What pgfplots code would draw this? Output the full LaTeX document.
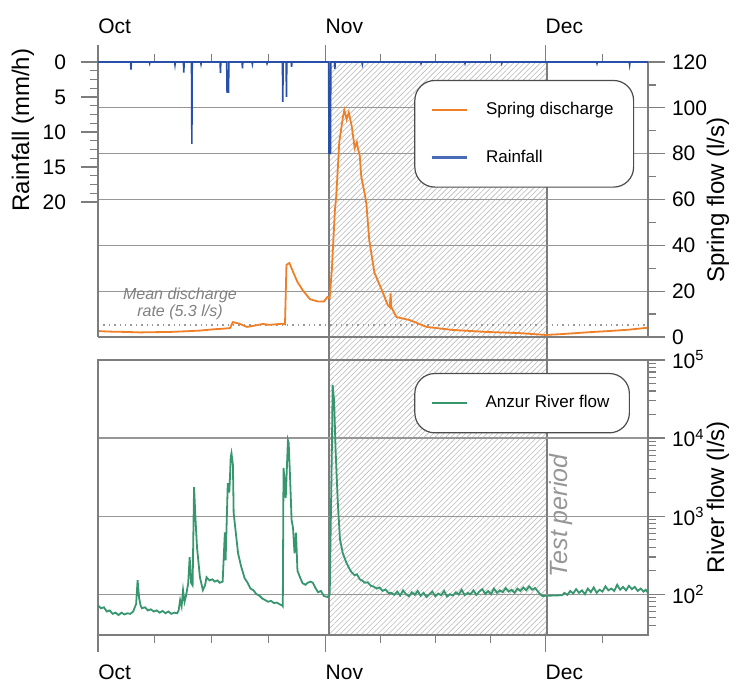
\documentclass[border=0pt]{standalone}
\usepackage{fontspec}
\setmainfont{Liberation Sans}
\usepackage{pgfplots}
\pgfplotsset{compat=1.18}
\usetikzlibrary{patterns.meta}

\definecolor{rainblue}{RGB}{40,80,170}
\definecolor{springorange}{RGB}{240,128,40}
\definecolor{rivergreen}{RGB}{55,150,110}
\definecolor{axgray}{RGB}{125,125,125}
\definecolor{gridgray}{RGB}{150,150,150}
\definecolor{notegray}{RGB}{150,150,150}

% days counted from 1 Oct
\pgfplotsset{
  panel/.style={
    scale only axis, width=275pt, height=137.5pt,
    xmin=0, xmax=75, clip=false,
    axis line style={axgray, line width=0.7pt},
    tick style={axgray, line width=0.6pt},
    tick align=outside,
    major tick length=8.5pt, minor tick length=4pt,
    tick label style={font=\fontsize{10.5}{12}\selectfont},
    /pgf/number format/assume math mode=true,
    xtick={0,31,61}, xticklabels={Oct,Nov,Dec},
    minor xtick={7.75,15.5,23.25,38.5,46,53.5,68.75},
  },
  boxlegend/.style={
    legend style={
      draw=black!70, line width=0.6pt, fill=white,
      rounded corners=10pt,
      font=\fontsize{8.5}{10}\selectfont,
      inner xsep=8pt, inner ysep=9pt,
      row sep=12pt,
      /tikz/every odd column/.append style={column sep=7pt},
    },
    legend image code/.code={\draw[##1] (0pt,0pt) -- (17.5pt,0pt);},
    legend cell align=left,
  },
}

\begin{document}
\begin{tikzpicture}
\path[use as bounding box] (0,0) rectangle (375pt,-342pt);

% test period
\path[pattern={Lines[angle=45,distance=1.9pt,line width=0.3pt]}, pattern color=gray!55]
  (164.5pt,-31pt) rectangle (273.5pt,-317.5pt);
\draw[axgray, line width=0.6pt] (164.5pt,-31pt) rectangle (273.5pt,-317.5pt);

% spring flow (right axis of top panel)
\begin{axis}[panel, boxlegend,
  at={(49pt,-31pt)}, anchor=north west,
  ymin=0, ymax=120,
  axis y line*=right, axis x line*=bottom,
  xtick=\empty, minor xtick={},
  ytick={0,20,...,120}, minor ytick={10,30,50,70,90,110},
  ymajorgrids, grid style={gridgray, line width=0.6pt},
  legend style={at={(0.575,0.935)}, anchor=north west},
]
\addplot[gray!80, dotted, line width=0.7pt, forget plot] coordinates {(0,5.3) (75,5.3)};
\addplot[springorange, line width=0.9pt] coordinates {
(0,2.6) (1.2,2.4) (2.3,2.3) (4.0,2.2) (5.7,2.0) (7.5,2.1) (9.8,2.2) (12.0,2.5) (13.9,2.8)
(15.9,3.4) (17.0,3.6) (18.0,3.9)
(18.4,6.5) (19.3,5.8) (20.3,4.4) (21.4,5.0) (22.5,5.7) (23.3,5.3) (24.1,5.5) (25.2,5.8) (25.5,5.5)
(25.7,31.5) (26.1,32.3) (26.6,28.4) (27.2,24) (27.9,20.5) (28.9,16.5) (30.0,15.5)
(30.8,15.5) (31.3,17.5) (31.6,17) (31.9,30) (32.3,55) (32.5,62) (32.9,85) (33.4,96)
(33.6,99) (33.9,95) (34.2,98) (34.6,92) (35.0,82.5) (35.3,85) (35.4,83) (35.7,79)
(35.9,70) (36.4,62) (36.6,58) (37.0,42) (37.7,28) (38.7,20.5) (39.5,14) (39.8,13)
(39.9,19) (40.0,13) (40.7,8.7) (42.5,7.4) (44.8,4.4) (48.3,3.1) (53.0,2.2) (57.5,1.7)
(61.0,0.9) (62.9,1.2) (65.2,1.7) (67.5,2.2) (69.7,2.6) (72.4,3.2) (74.5,3.9) (74.9,4.0)
};
\addlegendentry{Spring discharge}
\addlegendimage{color=rainblue!85!white, line width=1.1pt}
\addlegendentry{Rainfall}
\end{axis}

% rainfall (left axis of top panel)
\begin{axis}[panel,
  at={(49pt,-31pt)}, anchor=north west,
  ymin=0, ymax=39.3, y dir=reverse,
  axis y line*=left, axis x line*=top,
  xticklabel style={anchor=south west, inner xsep=0pt, yshift=2pt},
  ytick={0,5,...,20},
  minor ytick={1.25,2.5,3.75,6.25,7.5,8.75,11.25,12.5,13.75,16.25,17.5,18.75},
  yticklabel style={xshift=-4pt},
]
\addplot[rainblue, line width=0.8pt] coordinates {
(0,0) (4.45,0) (4.5,1.1) (4.55,0) (7.0,0) (7.05,0.2) (7.1,0) (10.45,0) (10.5,0.4) (10.55,0)
(11.65,0) (11.7,1.5) (11.75,0) (12.75,0) (12.8,11.7) (12.85,0) (14.0,0) (14.05,0.3) (14.1,0)
(16.65,0) (16.7,1.6) (16.75,0) (17.55,0) (17.6,4.3) (17.7,4.3) (17.8,4.3) (17.85,0)
(19.65,0) (19.7,0.9) (19.75,0) (21.0,0) (21.05,0.3) (21.1,0) (23.0,0) (23.05,0.2) (23.1,0)
(25.15,0) (25.2,5.7) (25.25,0) (25.65,0) (25.7,5.0) (25.75,0) (26.35,0) (26.4,0.7) (26.45,0)
(31.45,0) (31.5,13.0) (31.6,13.0) (31.7,13.0) (31.75,0) (32.25,0) (32.3,1.0) (32.35,0)
(36.0,0) (36.05,0.3) (36.1,0) (44.0,0) (44.05,0.2) (44.1,0) (50.0,0) (50.05,0.2) (50.1,0)
(55.0,0) (55.05,0.2) (55.1,0) (68.0,0) (68.05,0.2) (68.1,0) (72.45,0) (72.5,0.4) (72.55,0)
(75,0)
};
\end{axis}

% river flow (bottom panel)
\begin{axis}[panel, boxlegend,
  at={(49pt,-180pt)}, anchor=north west,
  ymode=log, ymin=30, ymax=100000,
  xtick pos=bottom, ytick pos=right, yticklabel pos=right,
  xticklabel style={anchor=north west, inner xsep=0pt, yshift=-3pt},
  ytick={100,1000,10000,100000},
  yticklabels={10\textsuperscript{2},10\textsuperscript{3},10\textsuperscript{4},10\textsuperscript{5}},
  minor ytick={40,50,60,70,80,90,200,300,400,500,600,700,800,900,
    2000,3000,4000,5000,6000,7000,8000,9000,20000,30000,40000,50000,60000,70000,80000,90000},
  ymajorgrids, grid style={gridgray, line width=0.6pt},
  legend style={at={(0.575,0.953)}, anchor=north west},
]
\addplot[rivergreen, line width=0.9pt] coordinates {
(0,72) (0.4,66) (0.8,68) (1.2,60) (1.6,62) (2.0,56) (2.4,58) (2.8,54) (3.2,58) (3.6,55)
(4.0,57) (4.4,56) (4.8,60) (5.2,75) (5.4,151) (5.6,90) (5.8,72) (6.0,66) (6.4,68) (6.8,62)
(7.2,64) (7.6,60) (8.0,62) (8.4,58) (8.8,61) (9.2,57) (9.6,60) (10.0,56) (10.4,58) (10.8,57)
(11.0,62) (11.2,84) (11.4,70) (11.6,113) (11.8,80) (12.0,95) (12.3,138) (12.5,298)
(12.7,140) (12.9,130) (13.1,2350) (13.3,900) (13.5,400) (13.9,165) (14.3,113) (14.6,130)
(14.8,165) (15.2,150) (15.6,155) (15.9,145) (16.3,150) (16.6,140) (17.0,145)
(17.3,620) (17.4,272) (17.7,2650) (17.9,2000) (18.0,3200) (18.1,5700)
(18.2,6400) (18.4,4500) (18.5,1090) (19.1,335) (19.5,230) (20.0,160) (20.4,140) (20.8,118)
(21.2,112) (21.6,100) (22.0,96) (22.4,88) (22.8,84) (23.2,80) (23.6,82) (24.0,77) (24.4,78)
(24.8,74) (25.1,72) (25.2,70) (25.3,4150) (25.5,2500) (25.6,1700) (25.9,9400) (26.0,8700)
(26.2,3000) (26.4,890) (26.6,700) (26.8,335) (27.0,615) (27.2,200) (27.6,160) (27.9,138)
(28.3,132) (28.6,140) (29.0,145) (29.3,140) (29.7,118) (30.0,106) (30.4,110) (30.8,95)
(31.3,92) (31.6,100) (31.9,8000) (32.0,48000) (32.2,30000) (32.4,7000) (32.7,1500)
(33.0,500) (33.4,330) (33.9,250) (34.3,210) (34.6,190) (35.0,175) (35.3,180) (35.7,155)
(36.0,150) (36.4,140) (36.8,142) (37.2,128) (37.6,125) (38.0,118) (38.4,122) (38.8,110)
(39.2,115) (39.6,104)
(40.0,104) (40.4,98) (40.8,108) (41.2,96) (41.6,112) (42.0,100) (42.4,94) (42.8,106)
(43.2,98) (43.6,110) (44.0,95) (44.4,104) (44.8,92) (45.2,100) (45.6,108) (46.0,94)
(46.4,102) (46.8,97) (47.2,110) (47.6,93) (48.0,100) (48.4,96) (48.8,106) (49.2,99)
(49.6,114) (50.0,97) (50.4,104) (50.8,100) (51.2,112) (51.6,98) (52.0,108) (52.4,116)
(52.8,101) (53.2,110) (53.6,100) (54.0,118) (54.4,104) (54.8,112) (55.2,106) (55.6,120)
(56.0,108) (56.4,114) (56.8,104) (57.2,118) (57.6,110) (58.0,122) (58.4,112) (58.8,126)
(59.2,114) (59.6,120) (60.0,108) (60.3,100) (60.6,95)
(63.3,97) (63.6,104) (64.0,98) (64.4,110) (64.8,102) (65.2,116) (65.6,104) (66.0,112)
(66.4,100) (66.8,118) (67.2,106) (67.6,122) (68.0,104) (68.4,114) (68.8,108) (69.2,126)
(69.6,112) (70.0,118) (70.4,110) (70.8,132) (71.2,114) (71.6,124) (72.0,112) (72.4,128)
(72.8,116) (73.2,124) (73.6,110) (74.0,118) (74.4,108) (74.7,114) (75,104)
};
\addlegendentry{Anzur River flow}
\end{axis}

% labels and notes
\node[rotate=90, font=\fontsize{12}{14}\selectfont] at (11.5pt,-65pt) {Rainfall (mm/h)};
\node[rotate=90, font=\fontsize{12}{14}\selectfont] at (359pt,-100pt) {Spring flow (l/s)};
\node[rotate=90, font=\fontsize{12}{14}\selectfont] at (359pt,-248.5pt) {River flow (l/s)};
\node[align=center, text=notegray!85!black, font=\itshape\fontsize{8}{8.5}\selectfont] at (90pt,-152pt) {Mean discharge\\rate (5.3 l/s)};
\node[rotate=90, text=notegray, font=\itshape\fontsize{12.5}{14}\selectfont] at (280.5pt,-258pt) {Test period};
\end{tikzpicture}
\end{document}
